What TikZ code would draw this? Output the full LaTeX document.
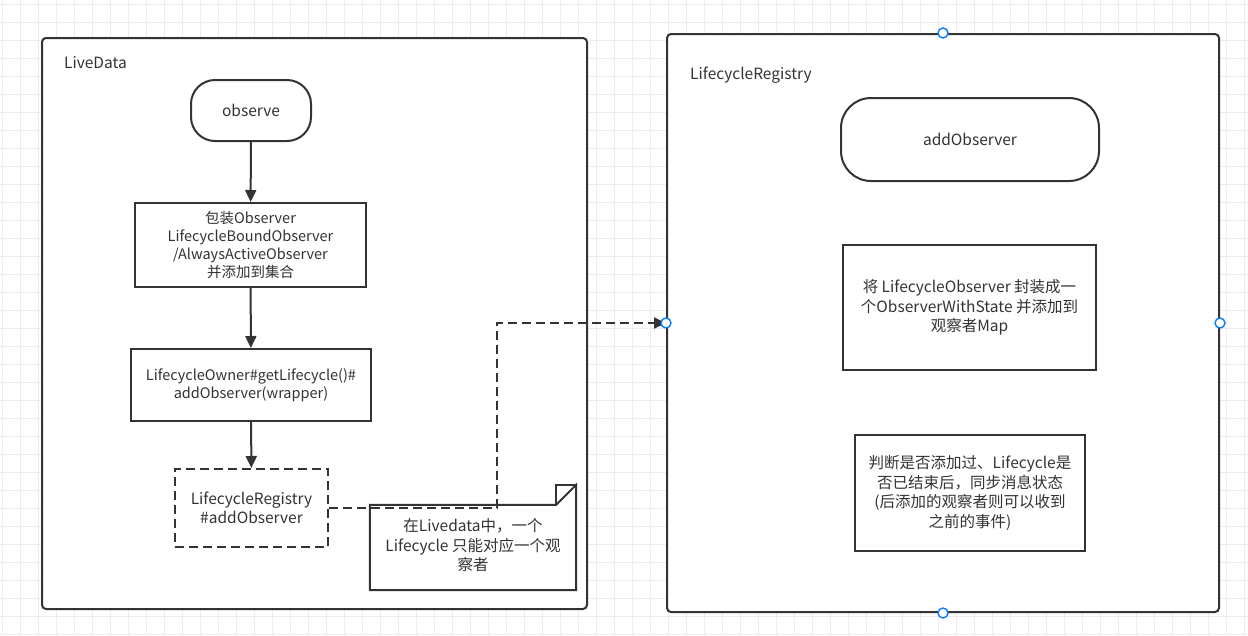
\documentclass[tikz,border=0pt]{standalone}
\usepackage{fontspec}
\setmainfont{Noto Sans CJK SC}
\usetikzlibrary{arrows.meta}
\definecolor{ink}{HTML}{333333}
\definecolor{gridc}{HTML}{EDEDED}
\definecolor{handleblue}{HTML}{0A7CFF}
\begin{document}
\begin{tikzpicture}[x=1pt,y=-1pt,
  every node/.style={text=ink, font=\fontsize{14.5}{18.2}\selectfont, align=center, inner sep=0pt},
  big/.style={font=\fontsize{15.5}{19.5}\selectfont},
  frame/.style={draw=ink, line width=2pt, fill=white, rounded corners=4pt},
  proc/.style={draw=ink, line width=2pt, fill=white, rectangle},
  term/.style={draw=ink, line width=2pt, fill=white, rectangle, rounded corners=#1},
  dashedbox/.style={draw=ink, line width=2pt, fill=white, rectangle, dash pattern=on 9pt off 5pt},
  flow/.style={draw=ink, line width=2pt, -{Triangle[length=12pt,width=11pt]}},
  dashflow/.style={draw=ink, line width=2pt, dash pattern=on 9pt off 5pt, -{Triangle[length=12pt,width=11pt]}},
  handle/.style={circle, draw=handleblue, fill=white, line width=1.4pt, minimum size=10pt, inner sep=0pt}]
\useasboundingbox (0,0) rectangle (1248,635);
\fill[white] (0,0) rectangle (1248,635);
\foreach \i in {0,...,69} \draw[gridc, line width=0.9pt] (2.7+18*\i,0) -- (2.7+18*\i,635);
\foreach \j in {0,...,35} \draw[gridc, line width=0.9pt] (0,4.7+18*\j) -- (1248,4.7+18*\j);

% left container
\node[frame, minimum width=545pt, minimum height=571pt] (live) at (314.5,323.5) {};
\node[anchor=west, big] (livelbl) at (64,63) {LiveData};
\node[term=24pt, big, minimum width=120pt, minimum height=61pt] (observe) at (251,110.5) {observe};
\node[proc, minimum width=231pt, minimum height=84pt] (wrap) at (250.5,245) {包装Observer\\LifecycleBoundObserver\\/AlwaysActiveObserver\\并添加到集合};
\node[proc, minimum width=240pt, minimum height=72pt] (owner) at (251,385) {LifecycleOwner\#getLifecycle()\#\\addObserver(wrapper)};
\node[dashedbox, big, minimum width=153pt, minimum height=78pt] (reg) at (251.5,508) {LifecycleRegistry\\\#addObserver};
\node[big, minimum width=206pt, minimum height=85pt] (note) at (473,547.5) {};
\fill[white] (note.north west) -- ([xshift=-20pt]note.north east) -- ([yshift=20pt]note.north east) -- (note.south east) -- (note.south west) -- cycle;
\draw[ink, line width=2pt, line join=miter] (note.north west) -- ([xshift=-20pt]note.north east) -- ([yshift=20pt]note.north east) -- (note.south east) -- (note.south west) -- cycle;
\draw[ink, line width=2pt] ([xshift=-20pt]note.north east) -- ([xshift=-20pt,yshift=20pt]note.north east) -- ([yshift=20pt]note.north east);
\node[big] (notetext) at ([yshift=2pt]note.center) {在Livedata中，一个\\Lifecycle 只能对应一个观\\察者};

% right container
\node[frame, minimum width=552pt, minimum height=578pt] (regbox) at (943,323) {};
\node[anchor=west, big] (reglbl) at (690,75) {LifecycleRegistry};
\node[term=30pt, big, minimum width=258pt, minimum height=83pt] (add) at (970,139.5) {addObserver};
\node[proc, big, minimum width=253pt, minimum height=125pt] (wrapstate) at (969.5,307.5) {将 LifecycleObserver 封装成一\\个ObserverWithState 并添加到\\观察者Map};
\node[proc, big, minimum width=230pt, minimum height=116pt] (sync) at (970,493) {判断是否添加过、Lifecycle是\\否已结束后，同步消息状态\\ (后添加的观察者则可以收到\\之前的事件)};

% connectors
\draw[flow] (observe) -- (wrap);
\draw[flow] (wrap) -- (owner);
\draw[flow] (owner) -- (reg);
\coordinate (bend) at (497,508);
\draw[dashflow] (reg.east) -- (bend) |- (regbox.west);

% handles
\node[handle] (h1) at (regbox.north) {};
\node[handle] (h2) at (regbox.west) {};
\node[handle] (h3) at (regbox.east) {};
\node[handle] (h4) at (regbox.south) {};
\end{tikzpicture}
\end{document}
